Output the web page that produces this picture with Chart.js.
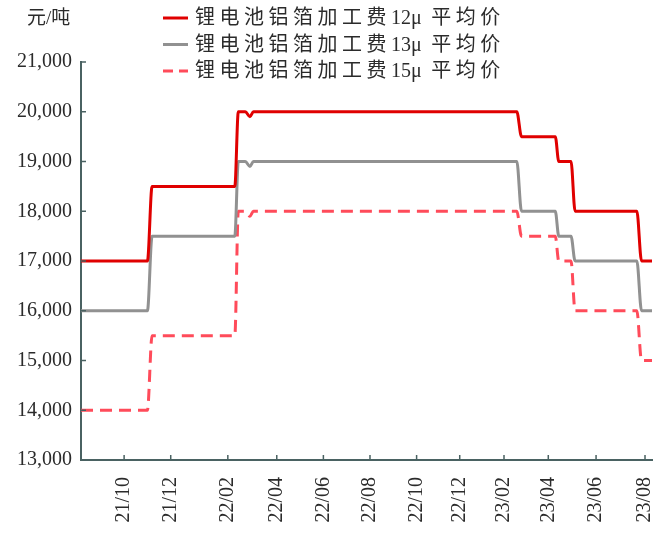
<!DOCTYPE html>
<html>
<head>
<meta charset="utf-8">
<script src="https://cdn.jsdelivr.net/npm/chart.js@4.4.0/dist/chart.umd.min.js"></script>
<style>
  html, body { margin: 0; padding: 0; background: #fff; }
  #wrap { width: 662px; height: 538px; position: relative; }
</style>
</head>
<body>
<div id="wrap"><canvas id="chart"></canvas></div>
<script>
// 单位 / 图例
const UNIT_LABEL = "元/吨"
const SERIES_NAMES = ["锂电池铝箔加工费12μ 平均价", "锂电池铝箔加工费13μ 平均价", "锂电池铝箔加工费15μ 平均价"]

// x = trading-day index, values at each change point
const X_POS   = [0,     57,    61,    132,   135,   141,   145,   148,   374,   378,   407,   410,   420.5, 424,   477,   481,   490]
const FOIL_12 = [17000, 17000, 18500, 18500, 20000, 20000, 19900, 20000, 20000, 19500, 19500, 19000, 19000, 18000, 18000, 17000, 17000]
const FOIL_13 = [16000, 16000, 17500, 17500, 19000, 19000, 18900, 19000, 19000, 18000, 18000, 17500, 17500, 17000, 17000, 16000, 16000]
const FOIL_15 = [14000, 14000, 15500, 15500, 18000, 18000, 17900, 18000, 18000, 17500, 17500, 17000, 17000, 16000, 16000, 15000, 15000]

// x-axis ticks
const TICK_POS    = [37, 77, 126, 168, 208, 248, 288, 325, 363, 401, 442, 484]
const TICK_LABELS = ["21/10", "21/12", "22/02", "22/04", "22/06", "22/08", "22/10", "22/12", "23/02", "23/04", "23/06", "23/08"]

const Y_MIN = 13000, Y_MAX = 21000, Y_STEP = 1000

const AXIS_COLOR = "#4a6262"
const TEXT_COLOR = "#2b2b2b"
const FONT_FAMILY = '"Liberation Serif", "Noto Sans CJK SC", serif'

const COLORS = ["#e00000", "#919191", "#ff4b5a"]
const DASHES = [[], [], [12, 7]]

const toPoints = values => X_POS.map((x, i) => ({ x, y: values[i] }))

const datasets = [FOIL_12, FOIL_13, FOIL_15].map((values, i) => ({
  label:       SERIES_NAMES[i],
  data:        toPoints(values),
  borderColor: COLORS[i],
  borderWidth: 3,
  borderDash:  DASHES[i],
  pointRadius: 0,
  cubicInterpolationMode: "monotone",
  fill:        false,
}))

// short tick marks pointing into the plot
const innerTicks = {
  id: "innerTicks",
  afterDraw(chart) {
    const { ctx, chartArea, scales: { x, y } } = chart
    ctx.save()
    ctx.strokeStyle = AXIS_COLOR
    ctx.lineWidth = 1.5
    ctx.beginPath()
    y.ticks.forEach(t => {
      const py = y.getPixelForValue(t.value)
      ctx.moveTo(chartArea.left, py)
      ctx.lineTo(chartArea.left + 5, py)
    })
    x.ticks.forEach(t => {
      const px = x.getPixelForValue(t.value)
      ctx.moveTo(px, chartArea.bottom)
      ctx.lineTo(px, chartArea.bottom - 5)
    })
    ctx.stroke()
    ctx.restore()
  }
}

// CJK glyphs (and the space) get extra spacing, latin digits stay tight
const isWide = ch => /[\u3000-\u9fff ]/.test(ch)

function drawSpaced(ctx, text, x, y, gap) {
  for (const ch of text) {
    ctx.fillText(ch, x, y)
    x += ctx.measureText(ch).width + (isWide(ch) ? gap : 0)
  }
}

// legend stacked at top centre plus unit label
const legendAndUnit = {
  id: "legendAndUnit",
  afterDraw(chart) {
    const { ctx } = chart
    ctx.save()
    ctx.fillStyle = TEXT_COLOR
    ctx.textBaseline = "middle"
    ctx.font = `19px ${FONT_FAMILY}`
    ctx.fillText(UNIT_LABEL, 27, 19)

    chart.data.datasets.forEach((ds, i) => {
      const rowY = 18 + i * 26.5
      ctx.strokeStyle = ds.borderColor
      ctx.lineWidth = 3
      ctx.setLineDash(ds.borderDash.length ? [10, 6] : [])
      ctx.beginPath()
      ctx.moveTo(163, rowY)
      ctx.lineTo(188, rowY)
      ctx.stroke()
      ctx.setLineDash([])

      ctx.font = `20px ${FONT_FAMILY}`
      drawSpaced(ctx, ds.label, 195, rowY + 1, 4.5)
    })
    ctx.restore()
  }
}

new Chart(document.getElementById("chart"), {
  type: "line",
  data: { datasets },
  options: {
    responsive:          true,
    maintainAspectRatio: false,
    animation:           false,
    layout: { padding: { left: 0, right: 10, top: 62, bottom: 0 } },
    plugins: {
      legend:  { display: false },
      tooltip: { enabled: false },
    },
    scales: {
      x: {
        type: "linear",
        min:  0,
        max:  490,
        afterBuildTicks: s => { s.ticks = TICK_POS.map(v => ({ value: v })) },
        afterFit: s => {
          s.height = 78
          s.paddingLeft = 0
          s.paddingRight = 0
        },
        grid:   { display: false, drawTicks: false },
        border: { display: true, color: AXIS_COLOR, width: 2 },
        ticks: {
          autoSkip:    false,
          minRotation: 90,
          maxRotation: 90,
          padding:     17,
          color:       TEXT_COLOR,
          font:        { family: FONT_FAMILY, size: 20 },
          callback:    (v, i) => TICK_LABELS[i],
        },
      },
      y: {
        min: Y_MIN,
        max: Y_MAX,
        afterFit: s => { s.width = 81 },
        grid:   { display: false, drawTicks: false },
        border: { display: true, color: AXIS_COLOR, width: 2 },
        ticks: {
          stepSize: Y_STEP,
          padding:  9,
          color:    TEXT_COLOR,
          font:     { family: FONT_FAMILY, size: 20 },
          callback: v => v.toLocaleString("en-US"),
        },
      },
    },
  },
  plugins: [innerTicks, legendAndUnit],
})
</script>
</body>
</html>
